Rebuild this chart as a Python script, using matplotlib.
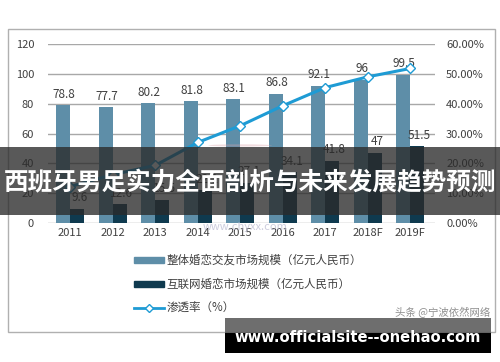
import matplotlib
matplotlib.use('Agg')
import matplotlib.pyplot as plt
import matplotlib.patches as mpatches
from matplotlib.lines import Line2D
import numpy as np

plt.rcParams['font.family'] = ['Noto Sans CJK SC', 'DejaVu Sans']

# 数据
years = ['2011', '2012', '2013', '2014', '2015', '2016', '2017', '2018F', '2019F']
total = [78.8, 77.7, 80.2, 81.8, 83.1, 86.8, 92.1, 96, 99.5]
online = [9.6, 12.6, 15.5, 22.1, 27.1, 34.1, 41.8, 47, 51.5]
rate = [12.2, 16.2, 19.3, 27.0, 32.6, 39.3, 45.4, 49.0, 51.8]
left_ticks = [0, 20, 40, 60, 80, 100, 120]
right_ticks = [0, 10, 20, 30, 40, 50, 60]

C_TOTAL = '#5e8ea8'
C_ONLINE = '#0f3a4f'
C_LINE = '#1e9bd4'
TXT = '#404040'

W, H = 500, 362
fig = plt.figure(figsize=(W / 100, H / 100), dpi=100)

# 外框
fig.patches.append(mpatches.Rectangle((8 / W, 1 - 332 / H), 487 / W, 303 / H, transform=fig.transFigure,
                                      fill=False, edgecolor='#b0b0b0', linewidth=1.0, zorder=0))

ax = fig.add_axes([48 / W, 1 - 223 / H, 387 / W, 179 / H])
x = np.arange(len(years))
w = 0.33
ax.bar(x - w / 2, total, w, color=C_TOTAL, zorder=3)
ax.bar(x + w / 2, online, w, color=C_ONLINE, zorder=3)
for i, v in enumerate(total):
    ax.text(i - w / 2 + 0.02, v + 3, f'{v:g}', ha='center', va='bottom', fontsize=8.5, color=TXT, zorder=5)
for i, v in enumerate(online):
    ax.text(i + w / 2 + 0.05, v + 3, f'{v:g}', ha='center', va='bottom', fontsize=8.5, color=TXT, zorder=5)
ax.set_xlim(-0.52, 8.58)
ax.set_ylim(0, 120)
ax.set_yticks(left_ticks)
ax.set_xticks(x)
ax.set_xticklabels(years)
ax.tick_params(axis='both', length=0, labelsize=8, labelcolor=TXT)
ax.tick_params(axis='y', pad=10)
ax.grid(axis='y', color='#a8a8a8', linewidth=1.0, zorder=0)
for s in ax.spines.values():
    s.set_visible(False)

# 水印 logo
ax.add_patch(mpatches.Circle((4.0, 52), radius=0.75, facecolor='#d9a0a8', alpha=0.35,
                             edgecolor='none', zorder=4))

ax2 = ax.twinx()
ax2.plot(x, rate, '-', color=C_LINE, linewidth=2.2, marker='D', markersize=5.5,
         markerfacecolor='white', markeredgecolor=C_LINE, markeredgewidth=1.0, zorder=6)
ax2.set_ylim(0, 60)
ax2.set_yticks(right_ticks)
ax2.set_yticklabels([f'{t:.2f}%' for t in right_ticks])
ax2.tick_params(axis='y', length=0, labelsize=8, labelcolor=TXT, pad=8)
for s in ax2.spines.values():
    s.set_visible(False)

fig.text(245 / W, 1 - 227 / H, 'www.chyxx.com', ha='center', va='center', fontsize=8, color='#b8b8d0',
         alpha=0.7, zorder=1)

handles = [mpatches.Patch(color=C_TOTAL), mpatches.Patch(color=C_ONLINE),
           Line2D([0], [0], color=C_LINE, linewidth=2, marker='D', markersize=4,
                  markerfacecolor='white', markeredgecolor=C_LINE)]
labels = ['整体婚恋交友市场规模（亿元人民币）', '互联网婚恋市场规模（亿元人民币）', '渗透率（%）']
leg = fig.legend(handles, labels, loc='upper left', bbox_to_anchor=(134 / W, 1 - 254 / H),
                 frameon=False, fontsize=8.3, labelspacing=0.95, handlelength=2.6, handleheight=0.5,
                 handletextpad=0.25, borderaxespad=0, borderpad=0)
for t in leg.get_texts():
    t.set_color(TXT)

# 横幅
fig.patches.append(mpatches.Rectangle((0, 1 - 215 / H), 1, 68 / H, transform=fig.transFigure,
                                      facecolor='#2a2a2a', alpha=0.78, edgecolor='none', zorder=10))
fig.text(0.5, 1 - 183 / H, '西班牙男足实力全面剖析与未来发展趋势预测', ha='center', va='center',
         fontsize=17.7, fontweight='bold', color='white', zorder=11)

# 底部
fig.text(490 / W, 1 - 318 / H, '头条 @宁波依然网络', ha='right', va='bottom', fontsize=7.5, color='#909090', zorder=9)
fig.patches.append(mpatches.Rectangle((225 / W, 1 - 333 / H), 266 / W, 15 / H, transform=fig.transFigure,
                                      facecolor='#555555', alpha=0.85, edgecolor='none', zorder=10))
fig.patches.append(mpatches.Rectangle((225 / W, 1 - 353 / H), 266 / W, 20 / H, transform=fig.transFigure,
                                      facecolor='black', edgecolor='none', zorder=10))
fig.text(358 / W, 1 - 337 / H, 'www.officialsite--onehao.com', ha='center', va='center',
         fontsize=10.6, fontweight='bold', color='white', family=['DejaVu Sans'], zorder=11)

fig.savefig('out.png', dpi=100)
